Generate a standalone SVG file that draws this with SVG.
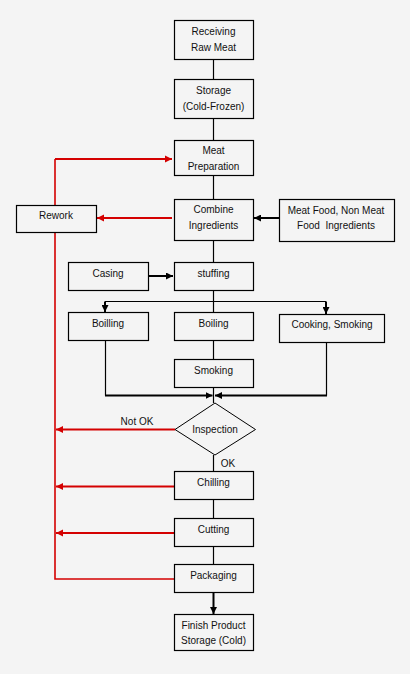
<svg xmlns="http://www.w3.org/2000/svg" width="410" height="674" viewBox="0 0 410 674">
<defs>
<style>
.box{fill:#f4f4f4;stroke:#000;stroke-width:1.2}
.t{font-family:"Liberation Sans",Arial,sans-serif;font-size:10px;fill:#111;text-anchor:middle}
.ln{stroke:#000;stroke-width:1.2;fill:none}
.bk{stroke:#000;stroke-width:2;fill:none}
.rd{stroke:#d40000;stroke-width:2.2;fill:none}
.rdt{stroke:#d40000;stroke-width:1.6;fill:none}
</style>
<marker id="ab" viewBox="0 0 10 10" refX="10" refY="5" markerWidth="3.5" markerHeight="3.5" orient="auto" markerUnits="strokeWidth"><path d="M0,0L10,5L0,10z" fill="#000"/></marker>
<marker id="ar" viewBox="0 0 10 10" refX="10" refY="5" markerWidth="3.2" markerHeight="3.2" orient="auto" markerUnits="strokeWidth"><path d="M0,0L10,5L0,10z" fill="#d40000"/></marker>
</defs>
<rect width="410" height="674" fill="#f4f4f4"/>
<g id="connectors">
<line class="ln" x1="213.5" y1="59" x2="213.5" y2="79"/>
<line class="ln" x1="213.5" y1="118" x2="213.5" y2="140"/>
<line class="ln" x1="213.5" y1="175" x2="213.5" y2="199"/>
<line class="ln" x1="213.5" y1="240" x2="213.5" y2="262"/>
<line class="bk" x1="279" y1="218" x2="254" y2="218" marker-end="url(#ab)"/>
<line class="bk" x1="148" y1="276" x2="173" y2="276" marker-end="url(#ab)"/>
<line class="ln" x1="213.5" y1="290" x2="213.5" y2="312"/>
<line class="ln" x1="105" y1="301.5" x2="326" y2="301.5"/>
<line class="bk" x1="105" y1="301.5" x2="105" y2="312" marker-end="url(#ab)"/>
<line class="bk" x1="326" y1="301.5" x2="326" y2="314" marker-end="url(#ab)"/>
<line class="ln" x1="213.5" y1="340" x2="213.5" y2="359"/>
<line class="ln" x1="213.5" y1="387" x2="213.5" y2="403"/>
<polyline class="ln" points="105.5,340 105.5,395.5"/>
<polyline class="ln" points="326.5,342 326.5,395.5"/>
<line class="bk" x1="105" y1="395.5" x2="212.5" y2="395.5" marker-end="url(#ab)"/>
<line class="bk" x1="327" y1="395.5" x2="215" y2="395.5" marker-end="url(#ab)"/>
<line class="ln" x1="213.5" y1="455" x2="213.5" y2="471"/>
<line class="ln" x1="213.5" y1="499" x2="213.5" y2="518"/>
<line class="ln" x1="213.5" y1="546" x2="213.5" y2="564"/>
<line class="bk" x1="213.5" y1="592" x2="213.5" y2="614" marker-end="url(#ab)"/>
<polyline class="rdt" points="174,579 55,579 55,159"/>
<line class="rd" x1="55" y1="159" x2="172" y2="159" marker-end="url(#ar)"/>
<line class="rd" x1="172" y1="218" x2="97" y2="218" marker-end="url(#ar)"/>
<line class="rd" x1="175" y1="429.5" x2="56" y2="429.5" marker-end="url(#ar)"/>
<line class="rd" x1="174" y1="486.5" x2="56" y2="486.5" marker-end="url(#ar)"/>
<line class="rd" x1="174" y1="533" x2="56" y2="533" marker-end="url(#ar)"/>
<text class="t" x="137" y="425">Not OK</text>
<text class="t" x="228" y="467">OK</text>
</g>
<g id="receiving"><rect class="box" x="174.5" y="20.5" width="79" height="39"/><text class="t" x="213.5" y="34.5">Receiving</text><text class="t" x="213.5" y="50.5">Raw Meat</text></g>
<g id="storage"><rect class="box" x="174.5" y="79.5" width="79" height="39"/><text class="t" x="213.5" y="94">Storage</text><text class="t" x="213.5" y="110">(Cold-Frozen)</text></g>
<g id="meatprep"><rect class="box" x="174.5" y="140.5" width="79" height="35"/><text class="t" x="213.5" y="154">Meat</text><text class="t" x="213.5" y="170">Preparation</text></g>
<g id="combine"><rect class="box" x="174.5" y="199.5" width="79" height="41"/><text class="t" x="213.5" y="213">Combine</text><text class="t" x="213.5" y="229">Ingredients</text></g>
<g id="meatfood"><rect class="box" x="279.5" y="199.5" width="115" height="42"/><text class="t" x="336" y="214">Meat Food, Non Meat</text><text class="t" x="336" y="229" xml:space="preserve">Food  Ingredients</text></g>
<g id="rework"><rect class="box" x="16.5" y="205.5" width="80" height="27"/><text class="t" x="56" y="219">Rework</text></g>
<g id="casing"><rect class="box" x="68.5" y="262.5" width="80" height="28"/><text class="t" x="108" y="277">Casing</text></g>
<g id="stuffing"><rect class="box" x="174.5" y="262.5" width="79" height="28"/><text class="t" x="213.5" y="277">stuffing</text></g>
<g id="boilling"><rect class="box" x="68.5" y="312.5" width="80" height="28"/><text class="t" x="108" y="327">Boilling</text></g>
<g id="boiling"><rect class="box" x="174.5" y="312.5" width="79" height="28"/><text class="t" x="213.5" y="327">Boiling</text></g>
<g id="cooking"><rect class="box" x="279.5" y="314.5" width="105" height="28"/><text class="t" x="332" y="328">Cooking, Smoking</text></g>
<g id="smoking"><rect class="box" x="174.5" y="359.5" width="79" height="28"/><text class="t" x="213.5" y="374">Smoking</text></g>
<g id="inspection"><polygon points="215,403 255.5,429.5 215,455 175,429.5" fill="#f4f4f4" stroke="#000" stroke-width="1"/><text class="t" x="215" y="433">Inspection</text></g>
<g id="chilling"><rect class="box" x="174.5" y="471.5" width="79" height="28"/><text class="t" x="213.5" y="486">Chilling</text></g>
<g id="cutting"><rect class="box" x="174.5" y="518.5" width="79" height="28"/><text class="t" x="213.5" y="533">Cutting</text></g>
<g id="packaging"><rect class="box" x="174.5" y="564.5" width="79" height="28"/><text class="t" x="213.5" y="579">Packaging</text></g>
<g id="finish"><rect class="box" x="174.5" y="614.5" width="79" height="36"/><text class="t" x="213.5" y="629">Finish Product</text><text class="t" x="213.5" y="644">Storage (Cold)</text></g>
</svg>
